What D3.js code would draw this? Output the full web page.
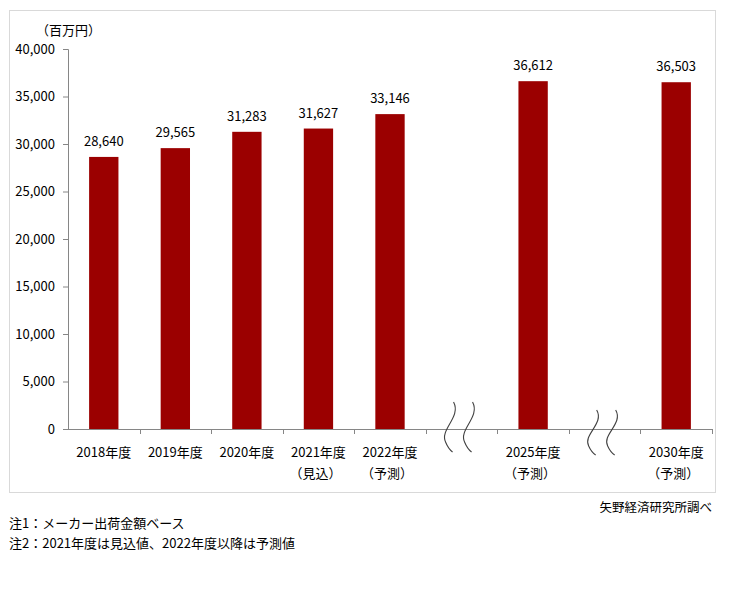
<!DOCTYPE html>
<html><head><meta charset="utf-8">
<script src="https://cdn.jsdelivr.net/npm/d3@7"></script>
<style>
body{margin:0;background:#fff;}
text{font-family:"Noto Sans CJK JP","Noto Sans",sans-serif;fill:#000;}
</style></head>
<body>
<svg id="chart" width="730" height="602"></svg>
<script>
const categories = ["2018年度","2019年度","2020年度","2021年度","2022年度","gap1","2025年度","gap2","2030年度"];
const subLabels = ["","","","（見込）","（予測）","","（予測）","","（予測）"];
const values = [28640,29565,31283,31627,33146,null,36612,null,36503];
const yTicks = [0,5000,10000,15000,20000,25000,30000,35000,40000];
const unitLabel = "（百万円）";
const sourceLabel = "矢野経済研究所調べ";
const notes = ["注1：メーカー出荷金額ベース","注2：2021年度は見込値、2022年度以降は予測値"];

const svg = d3.select("#chart");
const m = {left:68, right:712, top:49, bottom:429};
const x = d3.scaleBand().domain(categories).range([m.left,m.right]).paddingInner(0).paddingOuter(0);
const y = d3.scaleLinear().domain([0,40000]).range([m.bottom,m.top]);

// frame
svg.append("rect").attr("x",9.5).attr("y",10.5).attr("width",706).attr("height",482)
  .attr("fill","none").attr("stroke","#d9d9d9");

// y axis
const ya = svg.append("g").attr("transform",`translate(${m.left},0)`)
  .call(d3.axisLeft(y).tickValues(yTicks).tickSize(5).tickPadding(8).tickFormat(d3.format(",")));
ya.select(".domain").attr("stroke","#868686").attr("d",`M-5,${m.top+0.5}H0.5V${m.bottom+0.5}`);
ya.selectAll(".tick line").attr("stroke","#868686");
ya.selectAll("text").style("font-size","13px").attr("fill","#000");

// x axis baseline and ticks at band boundaries
const xa = svg.append("g");
xa.append("line").attr("x1",m.left).attr("x2",m.right+0.5).attr("y1",m.bottom+0.5).attr("y2",m.bottom+0.5).attr("stroke","#868686");
categories.forEach((c,i)=>{
  const bx = Math.round(x(c)+x.bandwidth())+0.5;
  xa.append("line").attr("x1",bx).attr("x2",bx).attr("y1",m.bottom).attr("y2",m.bottom+5).attr("stroke","#868686");
});

// bars
const data = categories.map((c,i)=>({c, v:values[i], s:subLabels[i]})).filter(d=>d.v!==null);
const bw = x.bandwidth()*0.41;
svg.append("g").selectAll("rect").data(data).join("rect")
  .attr("x",d=>x(d.c)+x.bandwidth()/2-bw/2)
  .attr("y",d=>y(d.v)).attr("width",bw).attr("height",d=>y(0)-y(d.v))
  .attr("fill","#9b0000");

// value labels
svg.append("g").selectAll("text").data(data).join("text")
  .attr("x",d=>x(d.c)+x.bandwidth()/2).attr("y",d=>y(d.v)-11)
  .attr("text-anchor","middle").style("font-size","13px").text(d=>d3.format(",")(d.v));

// category labels
const cl = svg.append("g");
data.forEach(d=>{
  const cx = x(d.c)+x.bandwidth()/2;
  cl.append("text").attr("x",cx).attr("y",457).attr("text-anchor","middle").style("font-size","13px").text(d.c);
  if(d.s) cl.append("text").attr("x",cx-3).attr("y",478).attr("text-anchor","middle").style("font-size","13px").text(d.s);
});

// wave break marks
function wave(cx, y0, y1){
  const h = y1-y0;
  return `M${cx+2},${y0} C${cx+10},${y0+h*0.3} ${cx-12},${y0+h*0.55} ${cx-6},${y0+h*0.8} C${cx-4},${y0+h*0.9} ${cx-1},${y0+h*0.97} ${cx+1},${y1}`;
}
const wg = svg.append("g").attr("fill","none").attr("stroke","#404040").attr("stroke-width",1.1);
[["gap1",402,452],["gap2",410,455]].forEach(([g,a,b])=>{
  const cx = x(g)+x.bandwidth()/2;
  wg.append("path").attr("d",wave(cx-10,a,b));
  wg.append("path").attr("d",wave(cx+9,a,b));
});

// unit label
svg.append("text").attr("x",36).attr("y",35).style("font-size","13px").text(unitLabel);

// source and notes
svg.append("text").attr("x",712).attr("y",512).attr("text-anchor","end").style("font-size","12.5px").text(sourceLabel);
notes.forEach((n,i)=>{
  svg.append("text").attr("x",9).attr("y",528+i*20).style("font-size","13px").text(n);
});
</script>
</body></html>
